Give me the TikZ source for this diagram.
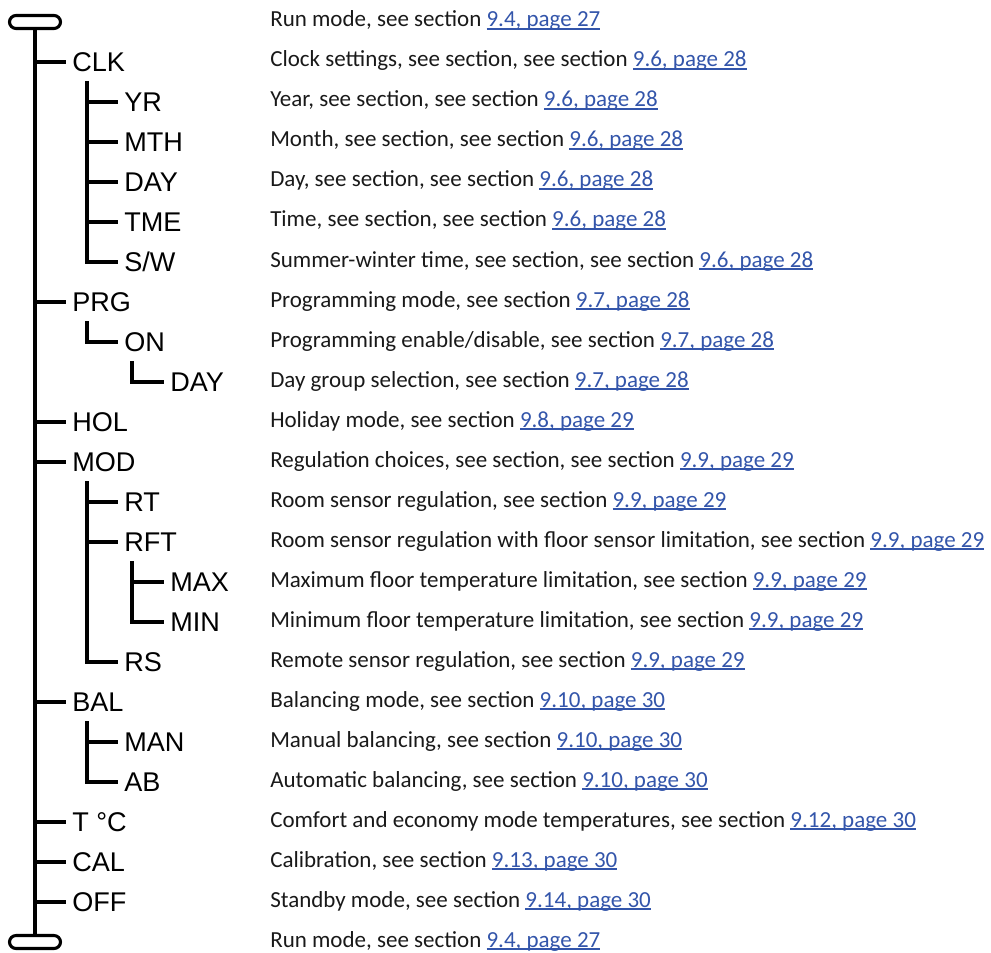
\documentclass[tikz,border=0pt]{standalone}
\usepackage{fontspec}
\setmainfont{Carlito}
\newfontfamily\lblfont{Liberation Sans}
\definecolor{linkblue}{RGB}{51,85,170}
\definecolor{txtgray}{RGB}{25,25,25}
\newcommand\lk[1]{{\color{linkblue}\setbox0\hbox{#1}\rlap{\rule[-1.9pt]{\wd0}{0.9pt}}\box0}}
\begin{document}
\begin{tikzpicture}[x=0.75pt,y=-0.75pt,
  tree/.style={line width=2.3pt},
  lbl/.style={anchor=west, inner xsep=4.5pt, inner ysep=0pt, text height=14.5pt, text depth=0pt,
    font=\lblfont\fontsize{20.3}{24}\selectfont},
  desc/.style={anchor=base west, inner sep=0pt, font=\fontsize{17.25}{21}\selectfont, text=txtgray},
  capsule/.style={draw, line width=2.3pt, rounded corners=4.9pt, inner sep=0pt,
    minimum width=38.25pt, minimum height=9.75pt}]
\useasboundingbox (0,0) rectangle (991,952);

% capsules
\node[capsule] (cap1) at (35,22) {};
\node[capsule] (cap2) at (35,942) {};

% labels
\node[lbl] (clk) at (66,62) {CLK};
\node[lbl] (yr) at (118,102) {YR};
\node[lbl] (mth) at (118,142) {MTH};
\node[lbl] (day) at (118,182) {DAY};
\node[lbl] (tme) at (118,222) {TME};
\node[lbl] (sw) at (118,262) {S/W};
\node[lbl] (prg) at (66,302) {PRG};
\node[lbl] (on) at (118,342) {ON};
\node[lbl] (dayg) at (164,382) {DAY};
\node[lbl] (hol) at (66,422) {HOL};
\node[lbl] (mod) at (66,462) {MOD};
\node[lbl] (rt) at (118,502) {RT};
\node[lbl] (rft) at (118,542) {RFT};
\node[lbl] (max) at (164,582) {MAX};
\node[lbl] (min) at (164,622) {MIN};
\node[lbl] (rs) at (118,662) {RS};
\node[lbl] (bal) at (66,702) {BAL};
\node[lbl] (man) at (118,742) {MAN};
\node[lbl] (ab) at (118,782) {AB};
\node[lbl] (tc) at (66,822) {T °C};
\node[lbl] (cal) at (66,862) {CAL};
\node[lbl] (off) at (66,902) {OFF};

% descriptions
\node[desc] (d0) at (270,27) {Run mode, see section \lk{9.4, page 27}};
\node[desc] (d1) at (270,67) {Clock settings, see section, see section \lk{9.6, page 28}};
\node[desc] (d2) at (270,107) {Year, see section, see section \lk{9.6, page 28}};
\node[desc] (d3) at (270,147) {Month, see section, see section \lk{9.6, page 28}};
\node[desc] (d4) at (270,187) {Day, see section, see section \lk{9.6, page 28}};
\node[desc] (d5) at (270,227) {Time, see section, see section \lk{9.6, page 28}};
\node[desc] (d6) at (270,267) {Summer-winter time, see section, see section \lk{9.6, page 28}};
\node[desc] (d7) at (270,307) {Programming mode, see section \lk{9.7, page 28}};
\node[desc] (d8) at (270,347) {Programming enable/disable, see section \lk{9.7, page 28}};
\node[desc] (d9) at (270,387) {Day group selection, see section \lk{9.7, page 28}};
\node[desc] (d10) at (270,427) {Holiday mode, see section \lk{9.8, page 29}};
\node[desc] (d11) at (270,467) {Regulation choices, see section, see section \lk{9.9, page 29}};
\node[desc] (d12) at (270,507) {Room sensor regulation, see section \lk{9.9, page 29}};
\node[desc] (d13) at (270,547) {Room sensor regulation with floor sensor limitation, see section \lk{9.9, page 29}};
\node[desc] (d14) at (270,587) {Maximum floor temperature limitation, see section \lk{9.9, page 29}};
\node[desc] (d15) at (270,627) {Minimum floor temperature limitation, see section \lk{9.9, page 29}};
\node[desc] (d16) at (270,667) {Remote sensor regulation, see section \lk{9.9, page 29}};
\node[desc] (d17) at (270,707) {Balancing mode, see section \lk{9.10, page 30}};
\node[desc] (d18) at (270,747) {Manual balancing, see section \lk{9.10, page 30}};
\node[desc] (d19) at (270,787) {Automatic balancing, see section \lk{9.10, page 30}};
\node[desc] (d20) at (270,827) {Comfort and economy mode temperatures, see section \lk{9.12, page 30}};
\node[desc] (d21) at (270,867) {Calibration, see section \lk{9.13, page 30}};
\node[desc] (d22) at (270,907) {Standby mode, see section \lk{9.14, page 30}};
\node[desc] (d23) at (270,947) {Run mode, see section \lk{9.4, page 27}};

% trunk tops
\coordinate (tclk) at (87,81);
\coordinate (tprg) at (87,321);
\coordinate (ton) at (132,361);
\coordinate (tmod) at (87,481);
\coordinate (trft) at (132,561);
\coordinate (tbal) at (87,721);

% main trunk
\draw[tree] (cap1.south) -- (cap2.north);
\foreach \n in {clk,prg,hol,mod,bal,tc,cal,off}
  \draw[tree] (cap1.south |- \n.west) -- (\n.west);

% CLK
\draw[tree] (tclk) |- (sw.west);
\foreach \n in {yr,mth,day,tme}
  \draw[tree] (tclk |- \n.west) -- (\n.west);
% PRG
\draw[tree] (tprg) |- (on.west);
\draw[tree] (ton) |- (dayg.west);
% MOD
\draw[tree] (tmod) |- (rs.west);
\foreach \n in {rt,rft}
  \draw[tree] (tmod |- \n.west) -- (\n.west);
\draw[tree] (trft) |- (min.west);
\draw[tree] (trft |- max.west) -- (max.west);
% BAL
\draw[tree] (tbal) |- (ab.west);
\draw[tree] (tbal |- man.west) -- (man.west);
\end{tikzpicture}
\end{document}
